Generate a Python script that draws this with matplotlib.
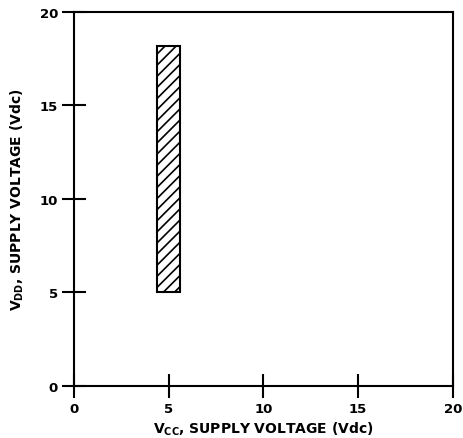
import matplotlib
matplotlib.use("Agg")
import matplotlib.pyplot as plt
from matplotlib.patches import Rectangle

plt.rcParams['font.family'] = ['DejaVu Sans']
plt.rcParams['font.weight'] = 'bold'
plt.rcParams['mathtext.default'] = 'regular'
plt.rcParams['hatch.linewidth'] = 1.2

x_ticks = [0, 5, 10, 15, 20]
y_ticks = [0, 5, 10, 15, 20]
region_vcc = [4.4, 5.6]
region_vdd = [5.0, 18.2]

fig = plt.figure(figsize=(4.63, 4.39), dpi=100)
ax = fig.add_axes([0.160, 0.1185, 0.818, 0.852])
ax.set_xlim(0, 20)
ax.set_ylim(0, 20)

rect = Rectangle((region_vcc[0], region_vdd[0]), region_vcc[1] - region_vcc[0],
                 region_vdd[1] - region_vdd[0], facecolor='white', edgecolor='black',
                 linewidth=1.5, hatch='///')
ax.add_patch(rect)

ax.set_xticks(x_ticks)
ax.set_yticks(y_ticks)
ax.set_xticklabels([str(v) for v in x_ticks], fontsize=9.5, fontweight='bold')
ax.set_yticklabels([str(v) for v in y_ticks], fontsize=9.5, fontweight='bold')
ax.tick_params(axis='both', direction='inout', length=17, width=1.5, colors='black')
ax.tick_params(axis='x', pad=3)
ax.tick_params(axis='y', pad=3)
for s in ax.spines.values():
    s.set_linewidth(1.5)

ax.set_xlabel(r"V$_{\mathbf{CC}}$, SUPPLY VOLTAGE (Vdc)", fontsize=10, fontweight='bold', labelpad=3)
ax.set_ylabel(r"V$_{\mathbf{DD}}$, SUPPLY VOLTAGE (Vdc)", fontsize=10, fontweight='bold', labelpad=10)

fig.savefig("out.png", dpi=100)
